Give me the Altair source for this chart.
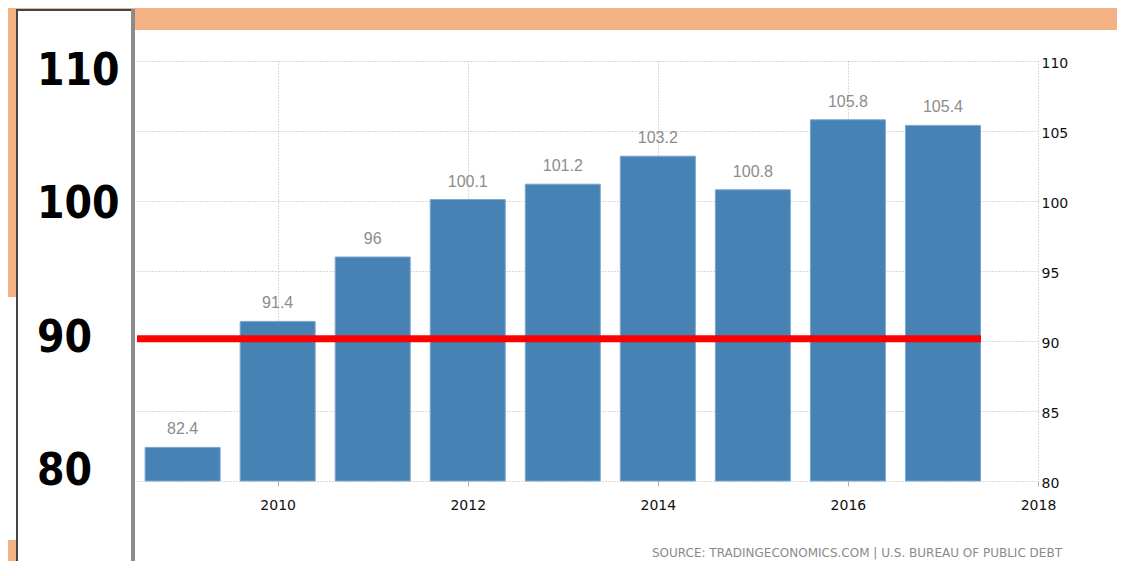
import altair as alt
import pandas as pd

# ---- data ----
years = [2009, 2010, 2011, 2012, 2013, 2014, 2015, 2016, 2017]
debt_pct = [82.4, 91.4, 96, 100.1, 101.2, 103.2, 100.8, 105.8, 105.4]
left_labels = [110, 100, 90, 80]
threshold = [90]
x_ticks = [2010, 2012, 2014, 2016, 2018]
y_ticks = [80, 85, 90, 95, 100, 105, 110]
source_text = "SOURCE: TRADINGECONOMICS.COM | U.S. BUREAU OF PUBLIC DEBT"

bars_df = pd.DataFrame({"year": years, "value": debt_pct})
left_df = pd.DataFrame({"v": left_labels})
thr_df = pd.DataFrame({"v": threshold, "start": [2008.52], "end": [2017.4]})
one = pd.DataFrame({"a": [0]})

ORANGE = "#F4B183"
BLUE = "#4682B4"

xscale = alt.Scale(domain=[2008.52, 2018], nice=False, zero=False, padding=0)
yscale = alt.Scale(domain=[80, 110], nice=False, zero=False, padding=0)
left_scale = alt.Scale(domain=[80, 110], range=[411, 11], nice=False, zero=False)

def deco(x, x2, y, y2, **kw):
    return alt.Chart(one).mark_rect(**kw).encode(
        x=alt.value(x), x2=alt.value(x2), y=alt.value(y), y2=alt.value(y2)
    )

# decorations (page layout pieces)
top_band = deco(-137, 1000, -61, -31, color=ORANGE)
left_strip_top = deco(-137, -120, -61, 236, color=ORANGE)
left_strip_bot = deco(-137, -120, 479, 520, color=ORANGE)
panel = deco(-120, -4, -51, 520, fill="white", stroke="#444444", strokeWidth=2)
panel_edge = deco(-6, -2, -52, 520, color="#8c8c8c")

xaxis = alt.Axis(values=x_ticks, format="d", title=None, grid=True, gridDash=[1, 2],
                 gridColor="#b4b4b4", domain=False, tickSize=5, tickColor="#b0b0b0",
                 labelFontSize=14, labelColor="#111111", labelFont="DejaVu Sans",
                 labelPadding=12, labelFlush=False)
yaxis = alt.Axis(values=y_ticks, orient="right", title=None, grid=True, gridDash=[1, 2],
                 gridColor="#b4b4b4", domain=False, ticks=False, labelFontSize=14,
                 labelColor="#111111", labelFont="DejaVu Sans", labelPadding=3,
                 labelOffset=2, labelFlush=False)

bars = alt.Chart(bars_df).mark_bar(size=75, color=BLUE, stroke="#7aa6cc", strokeWidth=1).encode(
    x=alt.X("year:Q", scale=xscale, axis=xaxis),
    y=alt.Y("value:Q", scale=yscale, axis=yaxis),
    y2=alt.datum(80),
)
vals = alt.Chart(bars_df).mark_text(
    baseline="alphabetic", dy=-13, fontSize=16, color="#8c8c8c", font="Liberation Sans"
).encode(
    x=alt.X("year:Q", scale=xscale),
    y=alt.Y("value:Q", scale=yscale),
    text=alt.Text("value:Q", format=".4~g"),
)
main = alt.layer(bars, vals)

red = alt.Chart(thr_df).mark_rule(color="#FF0000", strokeWidth=7).encode(
    x=alt.X("start:Q", scale=xscale),
    x2="end:Q",
    y=alt.Y("v:Q", scale=left_scale, axis=None),
)
big = alt.Chart(left_df).mark_text(
    align="left", baseline="middle", fontSize=44, fontWeight="bold", color="black",
    font="DejaVu Sans Condensed, sans-serif"
).encode(
    x=alt.value(-100),
    y=alt.Y("v:Q", scale=left_scale, axis=None),
    text=alt.Text("v:Q", format="d"),
)
left = alt.layer(red, big)

src = alt.Chart(one).mark_text(
    align="right", baseline="middle", fontSize=12, color="#8a8a8a", font="DejaVu Sans",
    text=source_text
).encode(x=alt.value(925), y=alt.value(492))

chart = alt.layer(
    top_band, left_strip_top, left_strip_bot, panel, panel_edge, main, left, src
).resolve_scale(y="independent").properties(
    width=901, height=420,
    padding={"left": 129, "top": 53, "right": 79, "bottom": 80},
    autosize=alt.AutoSizeParams(type="none"),
    background="white",
).configure_view(stroke=None)

chart.save("out.html", embed_options={"renderer": "svg", "actions": False})
